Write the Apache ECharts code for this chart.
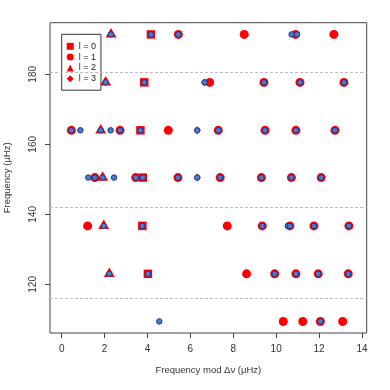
<!DOCTYPE html>
<html>
<head>
<meta charset="utf-8">
<script src="https://cdn.jsdelivr.net/npm/echarts@6/dist/echarts.min.js"></script>
<style>
  html, body { margin: 0; padding: 0; background: #fff; }
  #chart { width: 390px; height: 390px; }
</style>
</head>
<body>
<div id="chart"></div>
<script>
// model frequencies by degree l: [frequency mod dnu, frequency]
const l0 = [[4.16, 191.4], [3.85, 177.7], [3.67, 164.0], [3.78, 150.5], [3.76, 136.7], [4.02, 123.0]]
const l1 = [
  [5.44, 191.4], [8.51, 191.4], [10.90, 191.4], [12.69, 191.4],
  [6.90, 177.7], [9.43, 177.7], [11.11, 177.7], [13.16, 177.7],
  [0.45, 164.0], [2.72, 164.0], [4.97, 164.0], [7.30, 164.0], [9.48, 164.0], [10.92, 164.0], [12.74, 164.0],
  [1.55, 150.5], [3.45, 150.5], [5.42, 150.5], [7.39, 150.5], [9.31, 150.5], [10.71, 150.5], [12.10, 150.5],
  [1.21, 136.7], [7.72, 136.7], [9.35, 136.7], [10.64, 136.7], [11.76, 136.7], [13.39, 136.7],
  [8.62, 123.0], [9.93, 123.0], [10.92, 123.0], [11.96, 123.0], [13.36, 123.0],
  [10.33, 109.4], [11.24, 109.4], [12.06, 109.4], [13.10, 109.4]
]
const l2 = [[2.30, 191.4], [2.05, 177.7], [1.82, 164.0], [1.91, 150.5], [1.96, 136.7], [2.22, 123.0]]
const l3 = [[6.66, 177.7], [6.32, 164.0], [6.32, 150.5]]

// observed frequencies
const observed = [
  [2.30, 191.4], [4.16, 191.4], [5.44, 191.4], [10.72, 191.4], [10.97, 191.4],
  [2.05, 177.7], [3.85, 177.7], [6.66, 177.7], [9.43, 177.7], [11.11, 177.7], [13.16, 177.7],
  [0.45, 164.0], [0.87, 164.0], [1.82, 164.0], [2.28, 164.0], [2.72, 164.0], [3.67, 164.0], [6.32, 164.0],
  [7.30, 164.0], [9.48, 164.0], [10.92, 164.0], [12.74, 164.0],
  [1.24, 150.5], [1.55, 150.5], [1.91, 150.5], [2.44, 150.5], [3.45, 150.5], [3.78, 150.5], [5.42, 150.5],
  [6.32, 150.5], [7.39, 150.5], [9.31, 150.5], [10.71, 150.5], [12.10, 150.5],
  [1.96, 136.7], [3.76, 136.7], [9.35, 136.7], [10.54, 136.7], [10.64, 136.7], [11.76, 136.7], [13.39, 136.7],
  [2.22, 123.0], [4.02, 123.0], [9.93, 123.0], [10.92, 123.0], [11.96, 123.0], [13.36, 123.0],
  [4.55, 109.4], [12.06, 109.4]
]

const dashedLevels = [180.5, 141.9, 116.1]
const xTicks = [0, 2, 4, 6, 8, 10, 12, 14]
const yTicks = [120, 140, 160, 180]

const FONT = 'Liberation Sans'
const RED = '#ff0000'

const chart = echarts.init(document.getElementById('chart'))

chart.setOption({
  animation: false,
  textStyle: { fontFamily: FONT },
  grid: {
    left: 50, right: 23.3, top: 22.7, bottom: 57,
    containLabel: false, outerBoundsMode: 'none',
    show: true, borderColor: '#444', borderWidth: 1, backgroundColor: 'transparent'
  },
  legend: {
    left: 61.7, top: 34.3,
    orient: 'vertical',
    selectedMode: false,
    backgroundColor: '#fff',
    borderColor: '#333', borderWidth: 1, borderRadius: 0,
    padding: [7.5, 5, 7, 5],
    itemWidth: 7, itemHeight: 7, itemGap: 1.8,
    textStyle: { fontFamily: FONT, fontSize: 9, color: '#222', lineHeight: 9 },
    data: [
      { name: 'l = 0', icon: 'rect' },
      { name: 'l = 1', icon: 'circle' },
      { name: 'l = 2', icon: 'triangle' },
      { name: 'l = 3', icon: 'diamond' }
    ]
  },
  xAxis: {
    type: 'value',
    min: -0.545, max: 14.22,
    name: 'Frequency mod \u0394\u03bd (\u03bcHz)',
    nameLocation: 'middle', nameGap: 32,
    nameTextStyle: { fontFamily: FONT, fontSize: 9.5, color: '#333' },
    splitLine: { show: false },
    axisLine: { show: false, onZero: false },
    axisTick: { show: true, length: 5, customValues: xTicks, lineStyle: { color: '#444' } },
    axisLabel: { customValues: xTicks, margin: 11, fontSize: 10, color: '#333', fontFamily: FONT }
  },
  yAxis: {
    type: 'value',
    min: 106.1, max: 194.75,
    name: 'Frequency (\u03bcHz)',
    nameLocation: 'middle', nameGap: 38, nameRotate: 90,
    nameTextStyle: { fontFamily: FONT, fontSize: 9.5, color: '#333' },
    splitLine: { show: false },
    axisLine: { show: false, onZero: false },
    axisTick: { show: true, length: 5, customValues: yTicks, lineStyle: { color: '#444' } },
    axisLabel: { customValues: yTicks, rotate: 90, margin: 12, fontSize: 10, color: '#333', fontFamily: FONT }
  },
  series: [
    {
      type: 'scatter', data: [], z: 1, silent: true,
      markLine: {
        silent: true, symbol: ['none', 'none'], label: { show: false },
        lineStyle: { type: [3, 2], color: '#bdbdbd', width: 1 },
        data: dashedLevels.map(v => ({ yAxis: v }))
      }
    },
    { name: 'l = 0', type: 'scatter', z: 2, symbol: 'rect', symbolSize: 8.5, itemStyle: { color: RED, opacity: 1 }, data: l0 },
    { name: 'l = 1', type: 'scatter', z: 2, symbol: 'circle', symbolSize: 9, itemStyle: { color: RED, opacity: 1 }, data: l1 },
    { name: 'l = 2', type: 'scatter', z: 2, symbol: 'triangle', symbolSize: [11, 9.5], symbolOffset: [0, -1.7], itemStyle: { color: RED, opacity: 1 }, data: l2 },
    { name: 'l = 3', type: 'scatter', z: 2, symbol: 'diamond', symbolSize: [7, 8], itemStyle: { color: RED, opacity: 1 }, data: l3 },
    {
      name: 'observed', type: 'scatter', z: 3, symbol: 'circle', symbolSize: 5.5,
      itemStyle: { color: '#4d7cc4', borderColor: '#22308f', borderWidth: 1, opacity: 1 },
      data: observed
    }
  ]
})
</script>
</body>
</html>
